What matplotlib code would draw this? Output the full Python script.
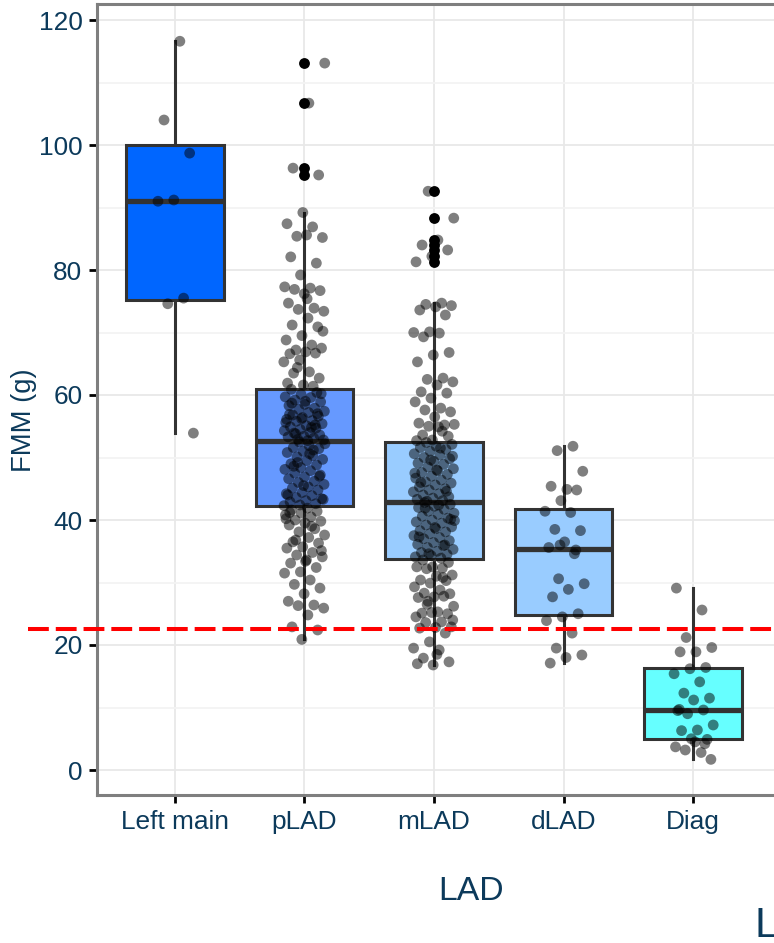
import matplotlib
matplotlib.use('Agg')
import matplotlib.pyplot as plt
import numpy as np
from matplotlib import font_manager as fm

names = {f.name for f in fm.fontManager.ttflist}
FONT = 'Liberation Sans Narrow' if 'Liberation Sans Narrow' in names else 'Liberation Sans'
NARROW = FONT == 'Liberation Sans Narrow'
plt.rcParams['font.family'] = [FONT, 'DejaVu Sans']
plt.rcParams['lines.scale_dashes'] = False

# ---------------- data ----------------
categories = ['Left main', 'pLAD', 'mLAD', 'dLAD', 'Diag']

left_main = [116.6, 104.0, 98.7, 91.2, 91.0, 75.5, 74.6, 53.9]

plad = [113.1, 106.7, 96.3, 95.2, 89.2, 87.4, 86.9, 85.4, 85.2, 85.6, 82.1, 81.1,
        79.2, 77.3, 77.1, 76.9, 76.7, 76.2, 74.7, 73.9, 73.7, 73.4, 72.3, 71.2,
        70.9, 69.5, 68.8, 68.0, 67.2, 67.5, 66.9, 66.6, 66.7, 65.6, 65.3, 63.7,
        63.5, 62.7, 61.6, 61.9, 61.4, 64.4, 70.2, 75.4,
        60.9, 60.4, 60.1, 59.7, 59.6, 59.2, 58.9, 58.5, 58.3, 57.9, 57.7, 57.4,
        57.2, 56.8, 56.6, 56.4, 56.1, 55.9, 55.8, 55.4, 55.1, 54.9, 54.7, 54.5,
        54.3, 54.0, 53.9, 53.6, 53.4, 53.3, 53.1, 52.9, 52.8, 52.7, 58.7, 57.0,
        56.2, 55.6, 54.8, 53.8, 60.2, 59.0, 56.9, 55.2,
        52.5, 52.2, 51.9, 51.6, 51.4, 51.0, 50.8, 50.3, 50.1, 49.7, 49.5, 49.0,
        48.8, 48.4, 48.1, 47.9, 47.5, 47.2, 46.9, 46.6, 46.2, 46.0, 45.7, 45.3,
        45.1, 44.8, 44.4, 44.2, 43.9, 43.6, 43.4, 43.1, 42.9, 42.6, 42.4, 42.3,
        50.6, 48.6, 47.0, 45.5, 44.0, 51.2, 49.2, 43.3,
        41.9, 41.6, 41.4, 41.1, 40.8, 40.5, 40.0, 39.8, 39.5, 39.2, 38.6, 38.1,
        37.6, 37.2, 36.5, 36.3, 35.7, 35.5, 34.8, 34.4, 34.1, 33.6, 33.1, 32.4,
        31.7, 31.5, 30.4, 29.7, 29.1, 28.2, 27.0, 26.4, 26.3, 25.9, 24.8, 22.9,
        22.4, 20.9, 40.2, 39.0, 36.8, 35.1, 33.4, 41.2]

mlad = [92.6, 88.3, 84.8, 84.0, 83.2, 82.2, 81.3,
        74.7, 74.5, 74.3, 74.1, 73.6, 72.8, 70.1, 70.0, 69.9, 69.3, 66.8, 66.4,
        65.3, 62.7, 62.5, 62.1, 61.6, 60.5, 60.3, 59.5, 58.9, 57.9, 57.6, 57.3,
        56.5, 55.5, 55.2, 55.0, 55.3, 54.9, 53.6, 53.4, 52.8, 52.7, 54.2,
        52.4, 52.1, 51.8, 51.6, 51.3, 51.0, 50.6, 50.4, 50.0, 49.8, 49.4, 49.1,
        48.9, 48.5, 48.2, 47.9, 47.6, 47.3, 47.0, 46.7, 46.4, 46.1, 45.9, 45.6,
        45.3, 45.0, 44.8, 44.5, 44.2, 44.0, 43.7, 43.5, 43.3, 43.1, 43.0, 50.2,
        48.0, 46.0, 44.6, 49.6, 47.5, 51.5,
        42.8, 42.5, 42.2, 42.0, 41.7, 41.4, 41.1, 40.9, 40.6, 40.3, 40.0, 39.7,
        39.5, 39.2, 38.9, 38.6, 38.3, 38.1, 37.8, 37.5, 37.2, 37.0, 36.7, 36.4,
        36.1, 35.9, 35.6, 35.3, 35.0, 34.8, 34.5, 34.3, 34.1, 33.9, 41.9, 40.1,
        38.8, 37.3, 36.0, 34.6, 39.9, 42.4,
        33.6, 33.2, 32.5, 32.5, 32.3, 32.2, 31.2, 31.0, 30.4, 30.3, 29.9, 29.3,
        28.8, 28.3, 28.2, 27.7, 27.6, 27.8, 27.0, 26.2, 25.3, 25.1, 25.0, 25.2,
        24.5, 23.7, 23.6, 22.9, 22.8, 22.7, 21.9, 20.5, 19.5, 19.2, 17.9, 17.3,
        16.8, 17.0, 30.8, 26.5, 24.0, 18.5]

dlad = [51.8, 51.1, 47.8, 44.9, 45.4, 44.8, 43.1, 41.4, 41.2, 38.5, 38.3, 36.5,
        35.6, 34.6, 30.6, 29.8, 28.9, 27.7, 25.0, 24.5, 23.9, 21.9, 19.5, 18.4,
        18.0, 17.1, 35.2, 36.0]

diag = [29.1, 25.6, 21.2, 19.6, 18.9, 18.9, 16.4, 16.2, 15.4, 14.1, 12.3, 11.5,
        11.2, 9.5, 9.6, 9.0, 7.2, 6.4, 6.3, 4.9, 5.0, 3.7, 2.8, 3.2, 1.7, 4.5,
        9.7, 4.2]

threshold = 22.5
yticks = [0, 20, 40, 60, 80, 100, 120]
yminor = [10, 30, 50, 70, 90, 110]

box_colors = ['#0066ff', '#6699ff', '#99ccff', '#99ccff', '#66ffff']
navy = '#0c3a5b'
edge = '#333333'

groups = [left_main, plad, mlad, dlad, diag]

# font sizes (narrow font allows larger sizes at same widths)
k = 1.0 if NARROW else 0.9
fs_tick, fs_ylab, fs_xlab, fs_L = 21 * k, 22 * k, 27 * k, 34 * k

# ---------------- figure ----------------
W, H = 774, 943
fig = plt.figure(figsize=(W / 100, H / 100), dpi=100)
ax = fig.add_axes([97 / W, 148 / H, 677 / W, 791 / H])

positions = list(range(len(categories)))
bp = ax.boxplot(groups, positions=positions, widths=0.75, patch_artist=True,
                whis=1.5, showcaps=False,
                flierprops=dict(marker='o', markerfacecolor='black',
                                markeredgecolor='none', markersize=7.8),
                medianprops=dict(color=edge, linewidth=3.8),
                boxprops=dict(edgecolor=edge, linewidth=2.2),
                whiskerprops=dict(color=edge, linewidth=2.2),
                zorder=2)
for patch, c in zip(bp['boxes'], box_colors):
    patch.set_facecolor(c)

# deterministic jitter
for i, vals in enumerate(groups):
    n = len(vals)
    offs = (((np.arange(n) + 1) * 0.6180339887 + 0.37 * i) % 1.0 - 0.5) * 0.32
    ax.scatter(np.array(positions[i]) + offs, vals, s=60, color='black',
               alpha=0.5, edgecolors='none', zorder=3)

ax.axhline(threshold, xmin=-0.102, xmax=1.0, color='#ff0000', lw=2.9,
           dashes=(15, 5), clip_on=False, zorder=4)

ax.set_xlim(-0.602, 4.625)
ax.set_ylim(-4.0, 122.56)
ax.set_yticks(yticks)
ax.set_yticks(yminor, minor=True)
ax.set_xticks(positions)
ax.set_xticklabels(categories)

ax.grid(True, which='major', color='#e8e8e8', lw=1.3)
ax.grid(True, which='minor', axis='y', color='#f3f3f3', lw=1.3)
ax.set_axisbelow(True)

for s in ['left', 'bottom', 'top']:
    ax.spines[s].set_color('#7f7f7f')
    ax.spines[s].set_linewidth(2.2)
ax.spines['right'].set_visible(False)

ax.tick_params(axis='both', which='major', length=6, width=2, color='black',
               labelsize=fs_tick, labelcolor=navy, pad=4.5)
ax.tick_params(axis='y', which='minor', length=0)

ax.set_xlabel('LAD', fontsize=fs_xlab, color=navy)
ax.xaxis.set_label_coords((471 - 97) / 677, (943 - 900 - 148) / 791)
ax.xaxis.label.set_verticalalignment('baseline')

ax.set_ylabel('FMM (g)', fontsize=fs_ylab, color=navy)
ax.yaxis.set_label_coords((37 - 97) / 677, (943 - 420 - 148) / 791)

fig.text(755 / W, 1 - 937 / H, 'L', fontsize=fs_L, color=navy,
         ha='left', va='baseline')

fig.savefig('out.png', dpi=100)
